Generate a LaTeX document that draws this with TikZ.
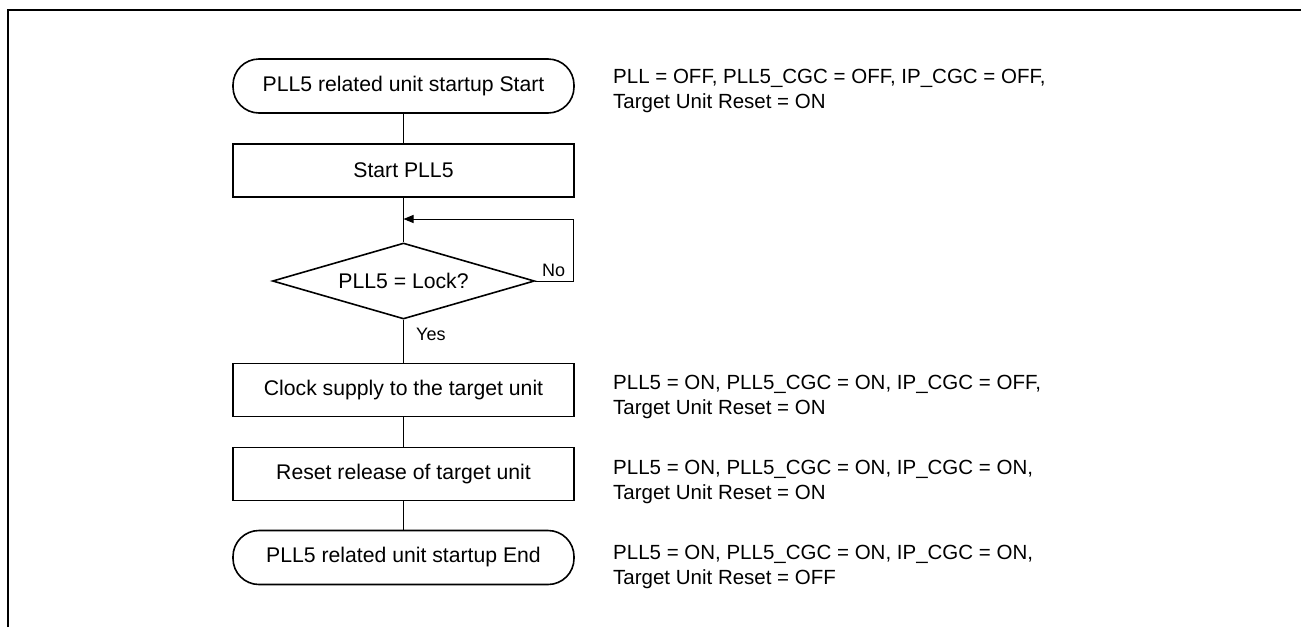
\documentclass[tikz,border=0pt]{standalone}
\usepackage{fontspec}
\setmainfont{Liberation Sans}
\usetikzlibrary{shapes.geometric,arrows.meta}
\tikzset{
  every node/.style={font=\fontsize{20.5}{25}\selectfont},
  boxfont/.style={font=\fontsize{21.2}{25}\selectfont},
  term/.style={draw,boxfont,line width=1.6pt,rounded corners=26pt,minimum width=341pt,minimum height=54pt,inner sep=0pt},
  proc/.style={draw,boxfont,line width=1.6pt,minimum width=341pt,minimum height=53pt,inner sep=0pt},
  decis/.style={draw,boxfont,line width=1.6pt,diamond,shape aspect=3.45,minimum width=262pt,minimum height=76pt,inner sep=0pt},
  conn/.style={line width=1pt},
  note/.style={anchor=north west,align=left,inner sep=0pt},
  lbl/.style={font=\fontsize{18}{22}\selectfont,inner sep=0pt},
}
\begin{document}
\begin{tikzpicture}[x=1pt,y=-1pt]
\useasboundingbox (0,0) rectangle (1301,627);
\draw[line width=2.7pt] (8,627) -- (8,10) -- (1301,10);

\node[term] (start) at (403.5,86) {PLL5 related unit startup Start};
\node[proc] (s5) at (403.5,170.5) {Start PLL5};
\node[decis] (dec) at (403.5,281) {PLL5 = Lock?};
\node[proc] (clk) at (403.5,390) {Clock supply to the target unit};
\node[proc] (rst) at (403.5,474) {Reset release of target unit};
\node[term] (fin) at (403.5,557.5) {PLL5 related unit startup End};

\coordinate (merge) at (403.5,219);
\coordinate (loopc) at (573,219);

\draw[conn] (start.south) -- (s5.north);
\draw[conn] (s5.south) -- (dec.north);
\draw[conn,-{Triangle[length=10pt,width=8pt]}] (dec.east) -| (loopc) -- (merge);
\draw[conn] (dec.south) -- (clk.north);
\draw[conn] (clk.south) -- (rst.north);
\draw[conn] (rst.south) -- (fin.north);

\node[lbl,anchor=base west] (no) at (542,276) {No};
\node[lbl,anchor=base west] (yes) at (416,340) {Yes};

\node[note] (n1) at (613,69) {PLL = OFF, PLL5\_CGC = OFF, IP\_CGC = OFF,\\Target Unit Reset = ON};
\node[note] (n2) at (613,375) {PLL5 = ON, PLL5\_CGC = ON, IP\_CGC = OFF,\\Target Unit Reset = ON};
\node[note] (n3) at (613,460) {PLL5 = ON, PLL5\_CGC = ON, IP\_CGC = ON,\\Target Unit Reset = ON};
\node[note] (n4) at (613,545) {PLL5 = ON, PLL5\_CGC = ON, IP\_CGC = ON,\\Target Unit Reset = OFF};
\end{tikzpicture}
\end{document}
